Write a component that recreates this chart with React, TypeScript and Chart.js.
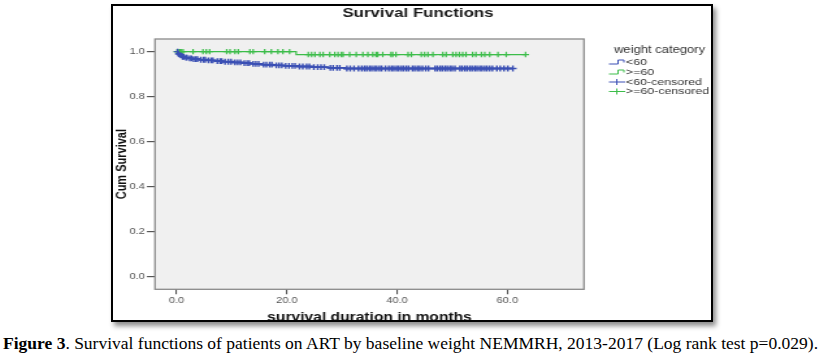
import React, { useEffect, useRef } from 'react';
import { Chart, registerables } from 'chart.js';

Chart.register(...registerables);

// ---------------- data ----------------
const X_TICKS = [0, 20, 40, 60];
const Y_TICKS = [0, 0.2, 0.4, 0.6, 0.8, 1.0];

// weight < 60 : Kaplan-Meier step (event times and survival after each event)
const lt60EventTimes = [0, 0.3, 0.6, 1.0, 1.5, 2.2, 3.0, 4.2, 5.5, 7.0, 8.5, 10.3, 12.0, 13.5, 15.5, 17.5, 19.5, 22.0, 24.5, 27.5, 30.5];
const lt60Survival = [1.0, 0.99, 0.983, 0.977, 0.973, 0.97, 0.967, 0.964, 0.961, 0.958, 0.955, 0.952, 0.949, 0.946, 0.942, 0.939, 0.937, 0.934, 0.931, 0.928, 0.925];
const lt60EndTime = 61.0;
const lt60Censored = [
  0.2, 0.4, 0.5, 0.8, 1.1, 1.3, 1.7, 1.9, 2.4, 2.7, 3.1, 3.5, 3.8, 4.4, 4.9, 5.2, 5.8, 6.3, 6.6, 7.4,
  7.9, 8.2, 8.8, 9.4, 9.9, 10.6, 11.1, 11.6, 12.3, 12.8, 13.2, 13.9, 14.4, 14.9, 15.8, 16.3, 16.9, 17.3,
  18.1, 18.6, 19.1, 19.8, 20.4, 21.0, 21.5, 22.3, 22.9, 23.6, 24.1, 24.9, 25.6, 26.2, 26.8, 27.9, 28.4,
  29.1, 29.6, 30.9, 31.5, 32.2, 33.0, 33.6, 34.1, 34.5, 35.0, 35.4, 35.9, 36.3, 36.8, 37.2, 37.9, 38.5,
  39.0, 39.4, 39.9, 40.3, 40.8, 41.2, 41.7, 42.1, 42.8, 43.2, 43.7, 44.1, 44.6, 45.2, 45.7, 46.9, 47.3,
  47.8, 48.2, 48.7, 49.1, 49.6, 50.0, 50.5, 51.4, 51.8, 52.3, 52.7, 53.2, 53.6, 54.1, 54.5, 55.0, 55.4,
  55.9, 56.3, 56.8, 57.3, 58.1, 58.7, 59.4, 60.1, 61.0,
];

// weight >= 60
const ge60EventTimes = [0, 21.7];
const ge60Survival = [1.0, 0.987];
const ge60EndTime = 63.3;
const ge60Censored = [
  0.1, 0.3, 0.6, 0.9, 1.2, 3.0, 4.8, 5.4, 6.0, 9.1, 9.7, 10.6, 11.2, 13.3, 13.9, 16.0, 17.2, 18.4, 19.3,
  20.5, 23.9, 24.5, 25.1, 26.0, 26.6, 27.8, 28.7, 29.3, 29.9, 30.2, 31.4, 32.6, 33.8, 34.7, 35.6, 36.2,
  36.5, 37.4, 38.9, 39.2, 39.8, 42.0, 42.6, 44.4, 45.0, 45.6, 46.5, 48.3, 48.9, 50.1, 50.7, 51.3, 51.9,
  52.5, 53.7, 54.3, 55.3, 55.9, 56.8, 58.3, 59.8, 63.3,
];

const SERIES_LABELS = ['<60', '>=60', '<60-censored', '>=60-censored'];
const LEGEND_TITLE = 'weight category';
const CHART_TITLE = 'Survival Functions';
const X_TITLE = 'survival duration in months';
const Y_TITLE = 'Cum Survival';

// ---------------- style ----------------
const BLUE = '#3a4fb4';
const GREEN = '#3cbd4a';
const SANS = '"Liberation Sans", Arial, sans-serif';
const STRETCH = 1.3; // the original figure is stretched horizontally
const CANVAS_W = 460;
const CANVAS_H = 314;

function stepPoints(times: number[], surv: number[], end: number) {
  const pts = times.map((t, i) => ({ x: t, y: surv[i] }));
  pts.push({ x: end, y: surv[surv.length - 1] });
  return pts;
}

function survAt(times: number[], surv: number[], t: number) {
  let s = surv[0];
  for (let i = 0; i < times.length; i++) if (times[i] <= t) s = surv[i];
  return s;
}

const framePlugin = {
  id: 'spssFrame',
  beforeDraw(chart: any) {
    const { ctx, chartArea: a } = chart;
    ctx.save();
    ctx.fillStyle = '#f0f0f0';
    ctx.fillRect(a.left, a.top, a.right - a.left, a.bottom - a.top);
    ctx.restore();
  },
  afterDraw(chart: any) {
    const { ctx, chartArea: a } = chart;
    ctx.save();
    ctx.strokeStyle = '#8a8a8a';
    ctx.lineWidth = 1.3;
    ctx.strokeRect(a.left, a.top, a.right - a.left, a.bottom - a.top);

    // title
    ctx.fillStyle = '#1a1a1a';
    ctx.font = `bold 13px ${SANS}`;
    ctx.textAlign = 'center';
    ctx.textBaseline = 'middle';
    ctx.fillText(CHART_TITLE, 234.6, 7);

    // legend
    const lx = 381.5;
    ctx.textAlign = 'left';
    ctx.fillStyle = '#333';
    ctx.font = `10px ${SANS}`;
    ctx.fillText(LEGEND_TITLE, 385.4, 44);
    const rows = [56, 66, 76, 85.5];
    const colors = [BLUE, GREEN, BLUE, GREEN];
    ctx.font = `9.5px ${SANS}`;
    rows.forEach((y, i) => {
      ctx.strokeStyle = colors[i];
      ctx.lineWidth = 1;
      ctx.beginPath();
      if (i < 2) {
        ctx.moveTo(lx, y + 2);
        ctx.lineTo(lx + 7, y + 2);
        ctx.lineTo(lx + 7, y - 2);
        ctx.lineTo(lx + 11.5, y - 2);
        ctx.lineTo(lx + 11.5, y + 0.5);
      } else {
        ctx.moveTo(lx, y);
        ctx.lineTo(lx + 12.5, y);
        ctx.moveTo(lx + 6, y - 3);
        ctx.lineTo(lx + 6, y + 3);
      }
      ctx.stroke();
      ctx.fillStyle = '#333';
      ctx.fillText(SERIES_LABELS[i], 394.6, y);
    });
    ctx.restore();
  },
};

export default function App() {
  const ref = useRef<HTMLCanvasElement>(null);

  useEffect(() => {
    document.body.style.margin = '0';
    const canvas = ref.current!;
    const tickFont = { family: SANS, size: 8.5 };
    const chart = new Chart(canvas, {
      type: 'line',
      data: {
        datasets: [
          {
            type: 'line',
            label: SERIES_LABELS[0],
            data: stepPoints(lt60EventTimes, lt60Survival, lt60EndTime),
            borderColor: BLUE,
            borderWidth: 1.8,
            stepped: true,
            pointRadius: 0,
            fill: false,
          },
          {
            type: 'line',
            label: SERIES_LABELS[1],
            data: stepPoints(ge60EventTimes, ge60Survival, ge60EndTime),
            borderColor: GREEN,
            borderWidth: 1.2,
            stepped: true,
            pointRadius: 0,
            fill: false,
          },
          {
            type: 'scatter',
            label: SERIES_LABELS[2],
            data: lt60Censored.map((t) => ({ x: t, y: survAt(lt60EventTimes, lt60Survival, t) })),
            pointStyle: 'cross',
            pointRadius: 2.9,
            borderColor: BLUE,
            borderWidth: 1.4,
            showLine: false,
          },
          {
            type: 'scatter',
            label: SERIES_LABELS[3],
            data: ge60Censored.map((t) => ({ x: t, y: survAt(ge60EventTimes, ge60Survival, t) })),
            pointStyle: 'cross',
            pointRadius: 2.7,
            borderColor: GREEN,
            borderWidth: 1.2,
            showLine: false,
          },
        ] as any,
      },
      options: {
        responsive: false,
        animation: false,
        devicePixelRatio: 1,
        layout: { padding: { left: 0, right: CANVAS_W - 362.3, top: 33, bottom: 0 } },
        plugins: {
          legend: { display: false },
          tooltip: { enabled: false },
          title: { display: false },
        },
        scales: {
          x: {
            type: 'linear',
            min: -3.9,
            max: 73.9,
            afterBuildTicks: (s: any) => {
              s.ticks = X_TICKS.map((v) => ({ value: v }));
            },
            afterFit: (s: any) => {
              s.height = 30.7;
            },
            grid: { drawOnChartArea: false, drawTicks: true, tickLength: 5, tickColor: '#555', lineWidth: 1.1 },
            border: { display: false },
            ticks: {
              padding: 1,
              color: '#555',
              font: tickFont,
              maxRotation: 0,
              autoSkip: false,
              callback: (v: any) => Number(v).toFixed(1),
            },
            title: {
              display: true,
              text: X_TITLE,
              color: '#111',
              font: { family: SANS, size: 12, weight: 'bold' },
              padding: { top: 0, bottom: -5 },
            },
          },
          y: {
            type: 'linear',
            min: -0.055,
            max: 1.056,
            afterBuildTicks: (s: any) => {
              s.ticks = Y_TICKS.map((v) => ({ value: v }));
            },
            afterFit: (s: any) => {
              s.width = 32.3;
            },
            grid: { drawOnChartArea: false, drawTicks: true, tickLength: 6.2, tickColor: '#555', lineWidth: 1.2 },
            border: { display: false },
            ticks: {
              padding: 1.5,
              color: '#555',
              font: tickFont,
              autoSkip: false,
              callback: (v: any) => Number(v).toFixed(1),
            },
            title: {
              display: true,
              text: Y_TITLE,
              color: '#111',
              font: { family: SANS, size: 11, weight: 'bold' },
              padding: { top: 0, bottom: 0 },
            },
          },
        },
      } as any,
      plugins: [framePlugin],
    });
    return () => chart.destroy();
  }, []);

  return (
    <div style={{ position: 'relative', width: 831, height: 359, background: '#fff', overflow: 'hidden' }}>
      <div
        style={{
          position: 'absolute',
          left: 111,
          top: 4,
          width: 598,
          height: 314,
          border: '2px solid #000',
          boxShadow: '3px 4px 5px rgba(0,0,0,0.45)',
          overflow: 'hidden',
          background: '#fff',
        }}
      >
        <canvas
          ref={ref}
          width={CANVAS_W}
          height={CANVAS_H}
          style={{ display: 'block', width: CANVAS_W * STRETCH, height: CANVAS_H }}
        />
      </div>
      <div
        style={{
          position: 'absolute',
          left: 3,
          top: 335,
          fontFamily: '"Liberation Serif", "Times New Roman", serif',
          fontSize: 17.5,
          lineHeight: '17.5px',
          whiteSpace: 'nowrap',
          color: '#000',
        }}
      >
        <b>Figure 3</b>. Survival functions of patients on ART by baseline weight NEMMRH, 2013-2017 (Log rank test p=0.029).
      </div>
    </div>
  );
}
